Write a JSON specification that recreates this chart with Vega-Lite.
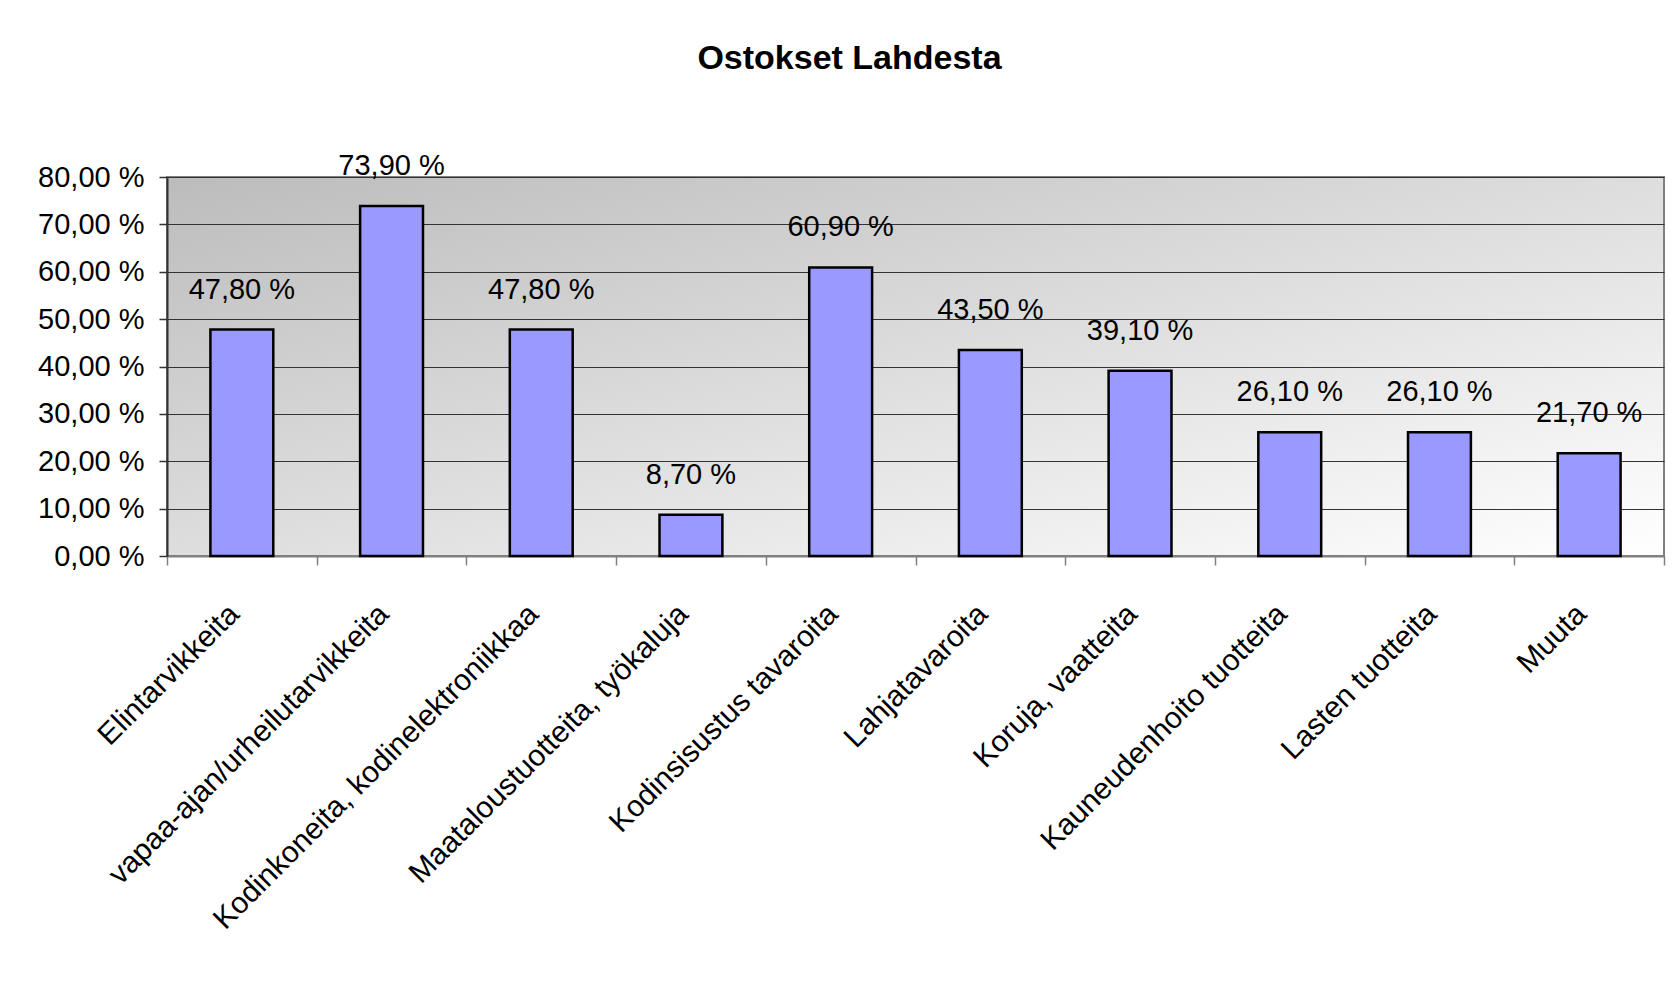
{
  "$schema": "https://vega.github.io/schema/vega-lite/v6.json",
  "width": 1497,
  "height": 379,
  "autosize": {"type": "none"},
  "padding": {"left": 167, "top": 177, "right": 13, "bottom": 442},
  "background": "white",
  "title": {
    "text": "Ostokset Lahdesta",
    "font": "Liberation Sans",
    "fontSize": 34,
    "fontWeight": "bold",
    "color": "#000000",
    "anchor": "middle",
    "frame": "group",
    "dx": -66,
    "offset": 49,
    "baseline": "alphabetic"
  },
  "config": {
    "font": "Liberation Sans",
    "view": {
      "fill": {
        "gradient": "linear",
        "x1": 0, "y1": 0, "x2": 1, "y2": 1,
        "stops": [
          {"offset": 0, "color": "#bcbcbc"},
          {"offset": 1, "color": "#ffffff"}
        ]
      },
      "stroke": "#808080",
      "strokeWidth": 2
    }
  },
  "data": {
    "values": [
      {"category": "Elintarvikkeita", "share": 47.8},
      {"category": "vapaa-ajan/urheilutarvikkeita", "share": 73.9},
      {"category": "Kodinkoneita, kodinelektroniikkaa", "share": 47.8},
      {"category": "Maataloustuotteita, työkaluja", "share": 8.7},
      {"category": "Kodinsisustus tavaroita", "share": 60.9},
      {"category": "Lahjatavaroita", "share": 43.5},
      {"category": "Koruja, vaatteita", "share": 39.1},
      {"category": "Kauneudenhoito tuotteita", "share": 26.1},
      {"category": "Lasten tuotteita", "share": 26.1},
      {"category": "Muuta", "share": 21.7}
    ]
  },
  "transform": [
    {"calculate": "replace(format(datum.share, '.2f'), '.', ',') + ' %'", "as": "label"}
  ],
  "encoding": {
    "x": {
      "field": "category",
      "type": "nominal",
      "sort": null,
      "scale": {"paddingInner": 0, "paddingOuter": 0},
      "axis": {
        "title": null,
        "labelAngle": -45,
        "labelAlign": "right",
        "labelBaseline": "middle",
        "labelFontSize": 30,
        "labelFont": "Liberation Sans",
        "labelColor": "#000000",
        "labelPadding": 44,
        "labelOffset": -8,
        "labelLimit": 0,
        "labelOverlap": false,
        "tickBand": "extent",
        "tickSize": 9,
        "tickColor": "#808080",
        "tickWidth": 1.5,
        "domainColor": "#808080",
        "domainWidth": 2,
        "grid": false
      }
    },
    "y": {
      "field": "share",
      "type": "quantitative",
      "scale": {"domain": [0, 80], "nice": false},
      "axis": {
        "title": null,
        "values": [0, 10, 20, 30, 40, 50, 60, 70, 80],
        "labelExpr": "replace(format(datum.value, '.2f'), '.', ',') + ' %'",
        "labelFontSize": 29,
        "labelFont": "Liberation Sans",
        "labelColor": "#000000",
        "labelPadding": 15,
        "tickSize": 8,
        "tickColor": "#333333",
        "tickWidth": 1.5,
        "domainColor": "#333333",
        "domainWidth": 2,
        "grid": true,
        "gridColor": "#333333",
        "gridWidth": 1.2,
        "gridOpacity": 1
      }
    }
  },
  "layer": [
    {
      "mark": {"type": "bar", "width": {"band": 0.42}, "fill": "#9999ff", "stroke": "#000000", "strokeWidth": 2.5}
    },
    {
      "mark": {"type": "text", "dy": -31, "baseline": "alphabetic", "align": "center", "fontSize": 29, "font": "Liberation Sans", "color": "#000000"},
      "encoding": {"text": {"field": "label"}}
    }
  ]
}
